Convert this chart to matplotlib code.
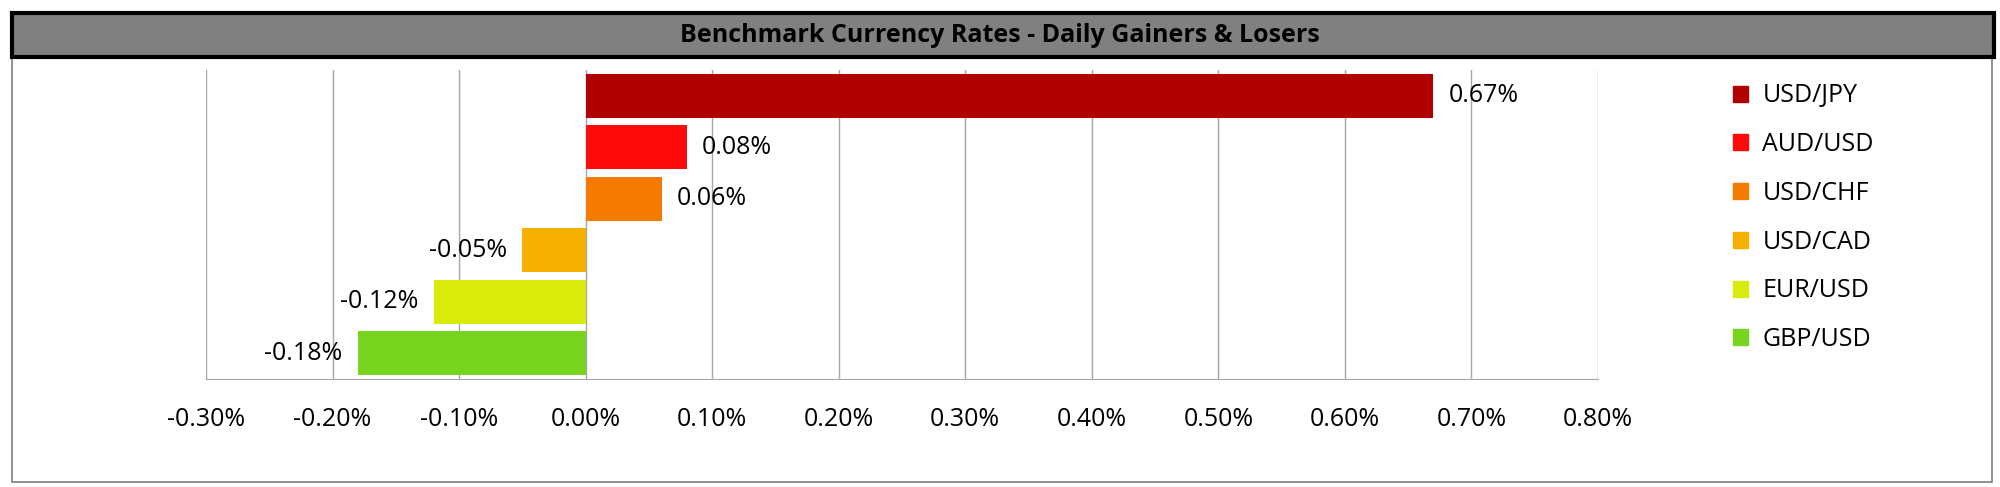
import matplotlib.pyplot as plt
from matplotlib.patches import Rectangle, Patch

pairs = ['USD/JPY', 'AUD/USD', 'USD/CHF', 'USD/CAD', 'EUR/USD', 'GBP/USD']
changes = [0.67, 0.08, 0.06, -0.05, -0.12, -0.18]
colors = ['#B00000', '#FF0A0A', '#F57A00', '#F5B000', '#D8EB0A', '#78D41E']
xticks = [-0.3, -0.2, -0.1, 0.0, 0.1, 0.2, 0.3, 0.4, 0.5, 0.6, 0.7, 0.8]

plt.rcParams['font.family'] = ['Open Sans', 'DejaVu Sans']

fig = plt.figure(figsize=(20, 4.87), dpi=100)

# outer chart frame
fig.patches.append(Rectangle((0.006, 0.01), 0.99, 0.875, transform=fig.transFigure,
                             fill=False, edgecolor='#7f7f7f', lw=1.2))
# title bar
fig.patches.append(Rectangle((0.006, 0.882), 0.991, 0.092, transform=fig.transFigure,
                             facecolor='#808080', edgecolor='black', lw=3))
fig.text(0.5, 0.928, 'Benchmark Currency Rates - Daily Gainers & Losers',
         ha='center', va='center', fontsize=18, fontweight='bold')

ax = fig.add_axes([0.103, 0.222, 0.696, 0.634])
y = list(range(len(pairs)))
ax.barh(y, changes, height=0.85, color=colors, zorder=3)
for yi, v in zip(y, changes):
    off = 0.012 if v >= 0 else -0.012
    ax.text(v + off, yi, f'{v:.2f}%', ha='left' if v >= 0 else 'right',
            va='center', fontsize=18, zorder=4)

ax.set_ylim(len(pairs) - 0.5, -0.5)
ax.set_xlim(-0.3, 0.8)
ax.set_xticks(xticks)
ax.set_xticklabels([f'{t:.2f}%' for t in xticks], fontsize=18)
ax.set_yticks([])
ax.tick_params(axis='x', length=0, pad=20)
ax.grid(axis='x', color='#a6a6a6', lw=1, zorder=0)
for s in ['top', 'right', 'left']:
    ax.spines[s].set_visible(False)
ax.spines['bottom'].set_color('#a6a6a6')

handles = [Patch(color=c, label=p) for p, c in zip(pairs, colors)]
fig.legend(handles=handles, loc='upper left', bbox_to_anchor=(0.855, 0.875),
           frameon=False, fontsize=18, handlelength=0.6, handleheight=0.6,
           labelspacing=0.95, handletextpad=0.6)

fig.savefig('out.png', dpi=100)
